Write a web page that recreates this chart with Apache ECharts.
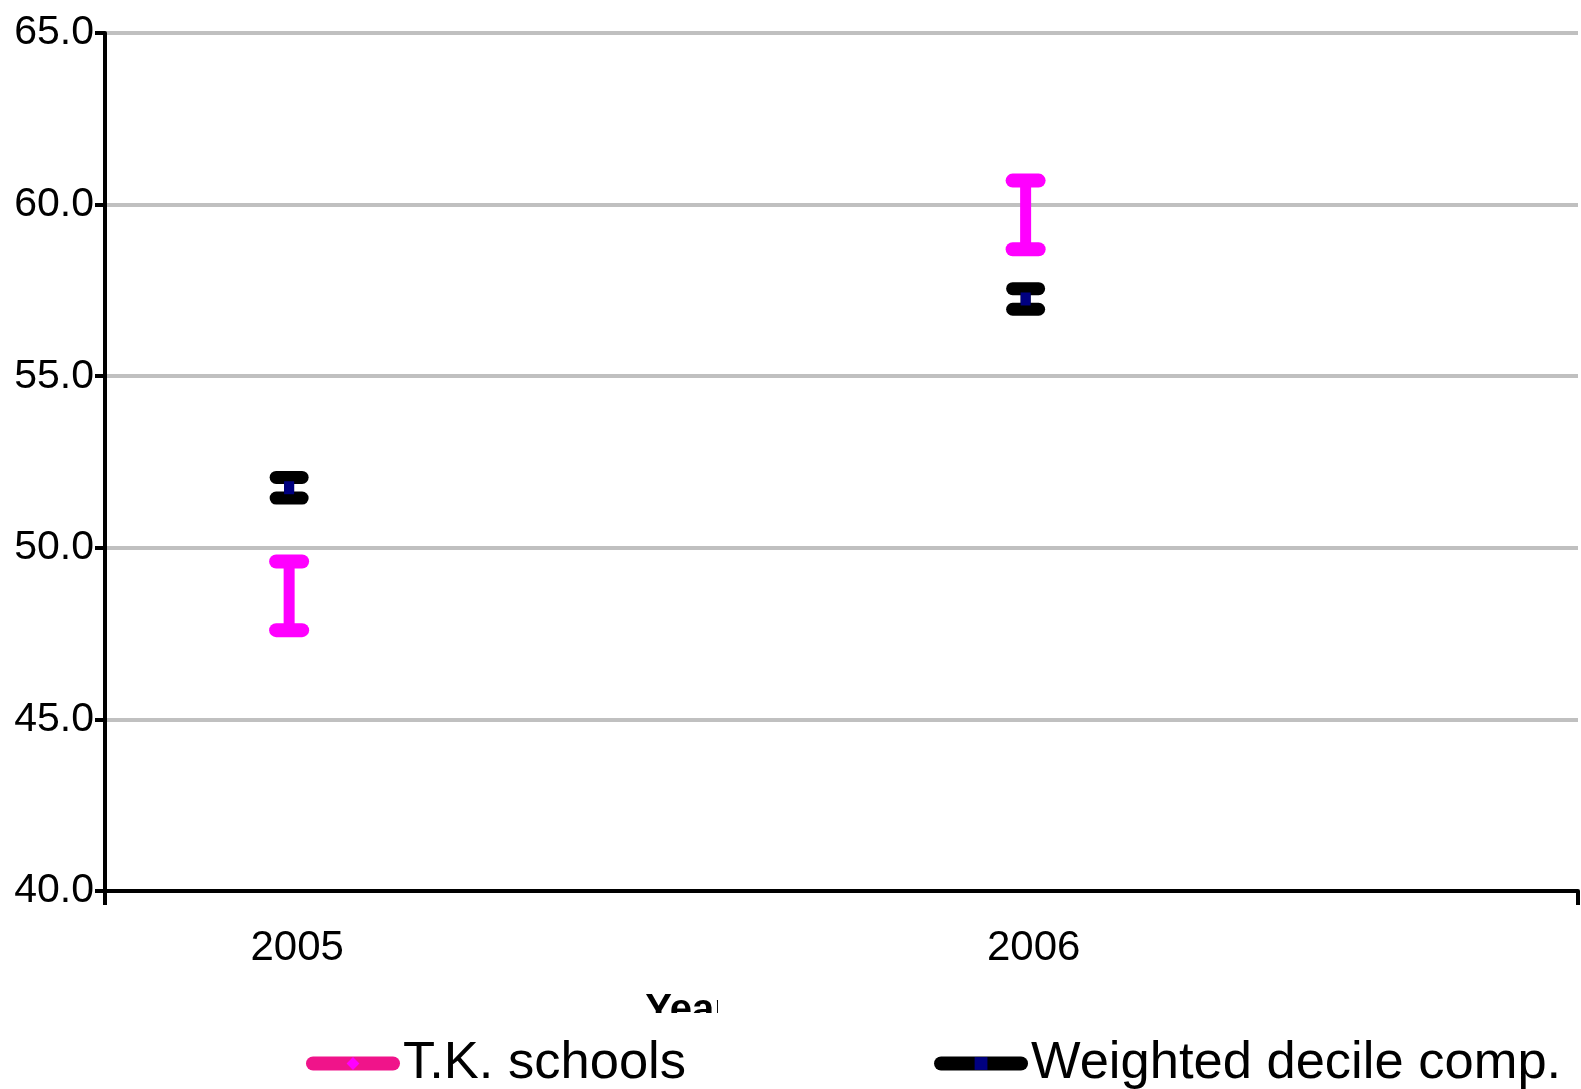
<!DOCTYPE html>
<html><head><meta charset="utf-8">
<script src="https://cdn.jsdelivr.net/npm/echarts@6/dist/echarts.min.js"></script>
<style>html,body{margin:0;padding:0;background:#fff}#c{width:1581px;height:1089px}</style>
</head><body><div id="c"></div>
<script>
const years = [2005, 2006];
const tkMean = [48.6, 59.7];
const tkLow = [47.6, 58.7];
const tkHigh = [49.6, 60.7];
const wMean = [51.75, 57.25];
const wLow = [51.45, 56.95];
const wHigh = [52.05, 57.55];
const yTicks = [40, 45, 50, 55, 60, 65];
const seriesNames = ['T.K. schools', 'Weighted decile comp.'];
const xTitle = 'Year';

const FONT = 'Liberation Sans, Arial, sans-serif';

function errRender(color, stemW, capW, half) {
  return function (params, api) {
    const x = api.value(0);
    const lo = api.coord([x, api.value(1)]);
    const hi = api.coord([x, api.value(2)]);
    return {
      type: 'group',
      children: [
        {type: 'line', shape: {x1: lo[0], y1: lo[1], x2: hi[0], y2: hi[1]}, style: {stroke: color, lineWidth: stemW}},
        {type: 'line', shape: {x1: lo[0] - half, y1: lo[1], x2: lo[0] + half, y2: lo[1]}, style: {stroke: color, lineWidth: capW, lineCap: 'round'}},
        {type: 'line', shape: {x1: hi[0] - half, y1: hi[1], x2: hi[0] + half, y2: hi[1]}, style: {stroke: color, lineWidth: capW, lineCap: 'round'}}
      ]
    };
  };
}

const chart = echarts.init(document.getElementById('c'), null, {renderer: 'canvas'});
chart.setOption({
  animation: false,
  backgroundColor: '#ffffff',
  textStyle: {fontFamily: FONT},
  grid: {left: 105, right: 3, top: 33, bottom: 198, containLabel: false},
  xAxis: {
    type: 'value',
    min: 2004.75, max: 2006.75,
    name: xTitle,
    nameLocation: 'middle',
    nameGap: 100,
    nameTextStyle: {fontSize: 40, fontWeight: 'bold', color: '#000', fontFamily: FONT, padding: [0, 308, 0, 0]},
    axisLine: {show: true, onZero: false, lineStyle: {color: '#000', width: 4}},
    axisTick: {show: true, customValues: [2004.75, 2006.75], length: 14, lineStyle: {color: '#000', width: 4}},
    axisLabel: {customValues: years, fontSize: 42, color: '#000', fontFamily: FONT, margin: 36, padding: [0, 0, 0, 16], formatter: v => String(Math.round(v))},
    splitLine: {show: false}
  },
  yAxis: {
    type: 'value',
    min: 40, max: 65, interval: 5,
    axisLine: {show: true, lineStyle: {color: '#000', width: 4}},
    axisTick: {show: true, length: 10, lineStyle: {color: '#000', width: 4}},
    axisLabel: {fontSize: 41, color: '#000', fontFamily: FONT, margin: 11, padding: [0, 0, 10, 0], formatter: v => v.toFixed(1)},
    splitLine: {show: true, lineStyle: {color: '#c0c0c0', width: 4}}
  },
  legend: {
    data: seriesNames,
    left: 301, top: 1032,
    z: 200,
    itemWidth: 80, itemHeight: 16, itemGap: 248,
    textStyle: {fontSize: 52.5, color: '#000', fontFamily: FONT, padding: [0, 0, 0, 5]},
    lineStyle: {width: 14, cap: 'round', opacity: 1},
    selectedMode: false
  },
  graphic: [
    {type: 'rect', z: 100, shape: {x: 0, y: 1013, width: 1581, height: 76}, style: {fill: '#ffffff'}},
    {type: 'rect', z: 100, shape: {x: 718, y: 985, width: 40, height: 30}, style: {fill: '#ffffff'}}
  ],
  series: [
    {
      name: '_tk_err', type: 'custom', z: 3,
      data: years.map((y, i) => [y, tkLow[i], tkHigh[i]]),
      renderItem: errRender('#ff00ff', 11, 14, 13),
      silent: true
    },
    {
      name: '_w_err', type: 'custom', z: 3,
      data: years.map((y, i) => [y, wLow[i], wHigh[i]]),
      renderItem: errRender('#000000', 10, 13, 13),
      silent: true
    },
    {
      name: seriesNames[0], type: 'line', z: 5,
      data: years.map((y, i) => [y, tkMean[i]]),
      symbol: 'diamond', symbolSize: [10, 14],
      itemStyle: {color: '#ff00ff'},
      lineStyle: {color: '#f0148a', width: 0, opacity: 0},
      silent: true
    },
    {
      name: seriesNames[1], type: 'line', z: 5,
      data: years.map((y, i) => [y, wMean[i]]),
      symbol: 'rect', symbolSize: [10, 13],
      itemStyle: {color: '#000080'},
      lineStyle: {color: '#000000', width: 0, opacity: 0},
      silent: true
    }
  ]
});
</script>
</body></html>
